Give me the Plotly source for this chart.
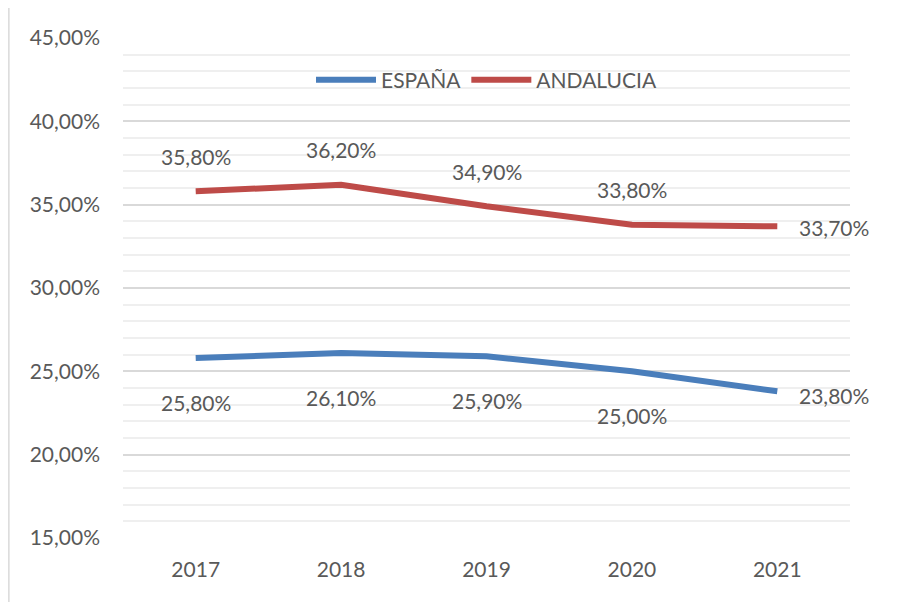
import plotly.graph_objects as go

years = ["2017", "2018", "2019", "2020", "2021"]
espana = [0.258, 0.261, 0.259, 0.250, 0.238]
andalucia = [0.358, 0.362, 0.349, 0.338, 0.337]

# name, values, colour, vertical label offset (px)
series = [
    ("ESPAÑA", espana, "#4a7ebb", -44),
    ("ANDALUCIA", andalucia, "#be4b48", 35),
]

FONT = "Lato, sans-serif"
TEXT_COLOR = "#595959"
SIZE = 21


def fmt(v):
    return f"{v * 100:.2f}%".replace(".", ",")


fig = go.Figure()

for name, values, color, shift in series:
    fig.add_trace(
        go.Scatter(
            x=years,
            y=values,
            name=name,
            mode="lines",
            line=dict(color=color, width=6),
        )
    )
    last = len(years) - 1
    for i, v in enumerate(values):
        # category index, since "2017" strings would be read as numbers
        if i == last:
            fig.add_annotation(
                x=i, y=v, text=fmt(v), showarrow=False,
                xanchor="left", xshift=20, yshift=-4 if shift < 0 else -1,
            )
        else:
            fig.add_annotation(
                x=i, y=v, text=fmt(v), showarrow=False, yshift=shift,
            )

fig.update_annotations(font=dict(size=SIZE, color=TEXT_COLOR, family=FONT))

# the page body adds an 8px offset, margins compensate for it
fig.update_layout(
    width=917,
    height=602,
    margin=dict(l=115, r=75, t=30, b=72),
    paper_bgcolor="white",
    plot_bgcolor="white",
    separators=",.",
    font=dict(family=FONT, size=SIZE, color=TEXT_COLOR),
    showlegend=True,
    legend=dict(
        orientation="h",
        x=0.5,
        xanchor="center",
        y=0.916,
        yanchor="middle",
        bgcolor="rgba(0,0,0,0)",
        font=dict(size=SIZE, color=TEXT_COLOR, family=FONT),
        itemwidth=60,
        tracegroupgap=0,
    ),
    shapes=[
        dict(
            type="rect",
            xref="paper",
            yref="paper",
            x0=-0.157,
            x1=1.2,
            y0=-0.2,
            y1=1.062,
            line=dict(color="#d9d9d9", width=1.5),
            layer="below",
        )
    ],
)

fig.update_xaxes(
    type="category",
    range=[-0.5, 4.5],
    showgrid=False,
    showline=False,
    ticks="",
    ticklabelstandoff=17,
    tickfont=dict(size=SIZE, color=TEXT_COLOR, family=FONT),
)

fig.update_yaxes(
    range=[0.15, 0.45],
    dtick=0.05,
    tickformat=".2%",
    showgrid=True,
    gridcolor="#d9d9d9",
    gridwidth=1.5,
    zeroline=False,
    showline=False,
    ticks="",
    ticklabelstandoff=22,
    tickfont=dict(size=SIZE, color=TEXT_COLOR, family=FONT),
    minor=dict(dtick=0.01, showgrid=True, gridcolor="#efefef", gridwidth=1.5),
)

fig.write_html("out.html")
